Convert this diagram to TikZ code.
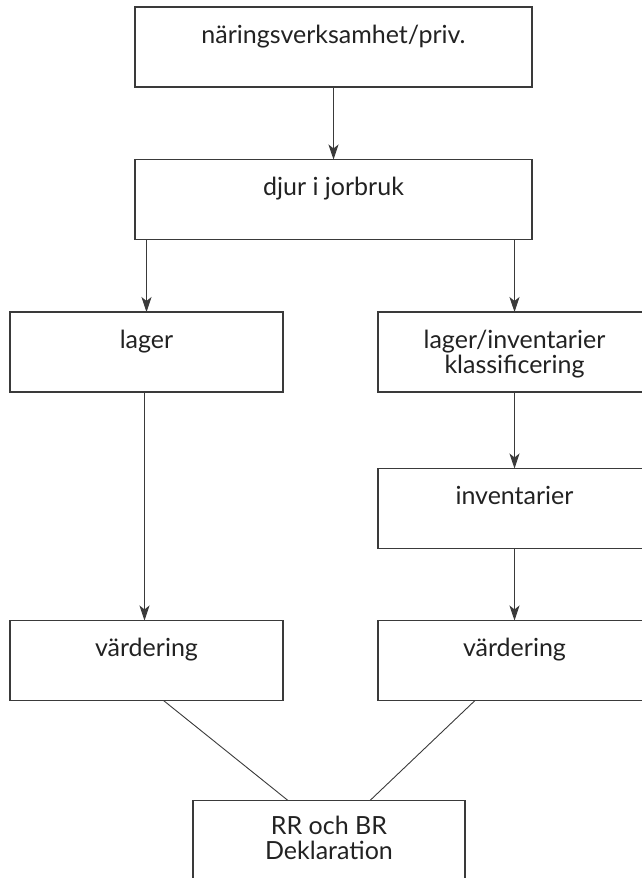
\documentclass[tikz,border=0pt]{standalone}
\usepackage{fontspec}
\setmainfont{Lato}
\usetikzlibrary{arrows.meta}
\definecolor{linec}{HTML}{3A3A3A}
\definecolor{textc}{HTML}{222222}
\newcommand{\tstrut}{\rule{0pt}{17pt}}
\begin{document}
\begin{tikzpicture}[x=1pt,y=-1pt,
  box/.style={draw=linec, line width=1.3pt, minimum width=273pt, minimum height=80pt, inner sep=0pt, outer sep=0pt},
  txt/.style={anchor=north, inner sep=0pt, outer sep=0pt, align=center, font=\fontsize{25}{25.5}\selectfont, text=textc},
  arr/.style={draw=linec, line width=0.9pt, -{Stealth[length=15pt,width=10pt,inset=4pt]}},
  ln/.style={draw=linec, line width=0.9pt}]
\clip (0,0) rectangle (642,878);
% boxes
\node[box, minimum width=397pt] (nar) at (333.5,47) {};
\node[box, minimum width=397pt] (djur) at (333.5,199.5) {};
\node[box] (lager) at (146.5,352) {};
\node[box] (klass) at (514.5,352) {};
\node[box] (inv) at (514.5,508.5) {};
\node[box] (vl) at (146.5,660.5) {};
\node[box] (vr) at (514.5,660.5) {};
\node[box, minimum width=272pt] (rr) at (329,840.5) {};
% texts
\node[txt] (narT) at (333.5,25) {\tstrut näringsverksamhet/priv.};
\node[txt] (djurT) at (333.5,177) {\tstrut djur i jorbruk};
\node[txt] (lagerT) at (146.5,330) {\tstrut lager};
\node[txt] (klassT) at (514.5,330) {\tstrut lager/inventarier\\ klassificering};
\node[txt] (invT) at (514.5,486) {\tstrut inventarier};
\node[txt] (vlT) at (146.5,638) {\tstrut värdering};
\node[txt] (vrT) at (514.5,638) {\tstrut värdering};
\node[txt] (rrT) at (329,816) {\tstrut RR och BR\\ Deklaration};
% connectors
\draw[arr] (nar) -- (djur);
\draw[arr] (djur.south -| lager.north) -- (lager.north);
\draw[arr] (djur.south -| klass.north) -- (klass.north);
\draw[arr] ([xshift=-2pt]lager.south) -- ([xshift=-2pt]vl.north);
\draw[arr] (klass) -- (inv);
\draw[arr] (inv) -- (vr);
\draw[ln] ([xshift=17pt]vl.south) -- ([xshift=-41pt]rr.north);
\draw[ln] ([xshift=-39.5pt]vr.south) -- ([xshift=41pt]rr.north);
\end{tikzpicture}
\end{document}
